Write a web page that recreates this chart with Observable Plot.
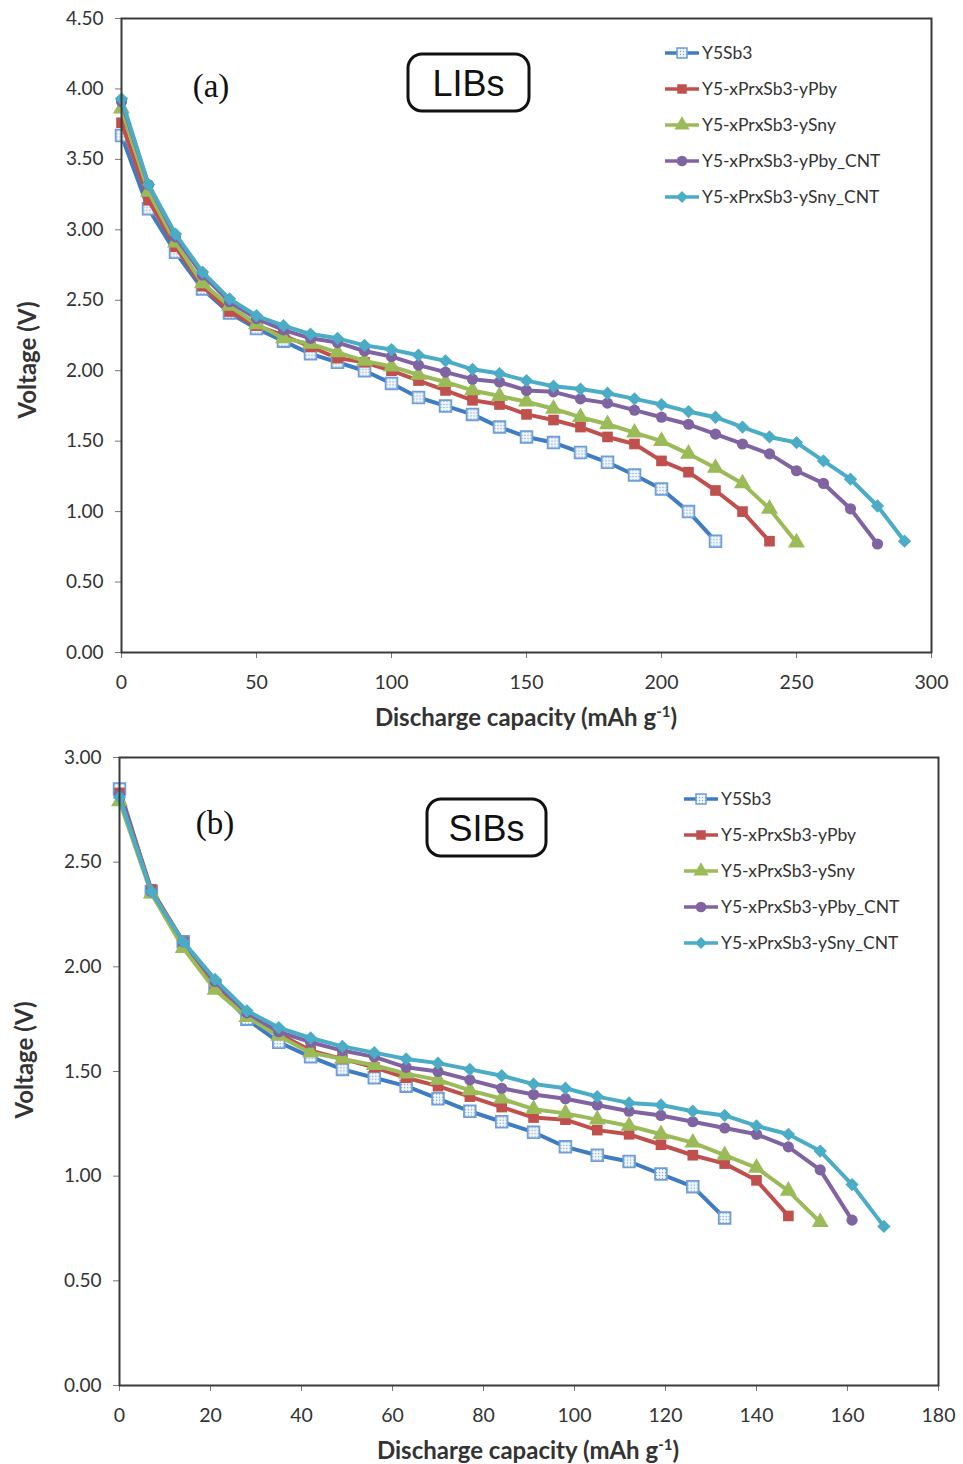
<!DOCTYPE html>
<html><head><meta charset="utf-8">
<script src="https://cdn.jsdelivr.net/npm/d3@7"></script>
<script src="https://cdn.jsdelivr.net/npm/@observablehq/plot@0.6"></script>
<style>
body{margin:0;background:#fff;}
#chart{width:963px;}
#chart svg{display:block;}
</style></head><body><div id="chart"></div>
<script>
// ---------- data ----------
const seriesNames = ["Y5Sb3", "Y5-xPrxSb3-yPby", "Y5-xPrxSb3-ySny", "Y5-xPrxSb3-yPby_CNT", "Y5-xPrxSb3-ySny_CNT"];
const seriesColors = ["#3f7cc2", "#c0504d", "#9bbb59", "#8064a2", "#4bacc6"];
const seriesSymbols = ["square", "square", "triangle", "circle", "diamond2"];

// Panel (a) LIBs
const capacityA = [0,10,20,30,40,50,60,70,80,90,100,110,120,130,140,150,160,170,180,190,200,210,220,230,240,250,260,270,280,290];
const voltA_Y5Sb3   = [3.67,3.15,2.84,2.58,2.41,2.30,2.21,2.12,2.06,2.00,1.91,1.81,1.75,1.69,1.60,1.53,1.49,1.42,1.35,1.26,1.16,1.00,0.79];
const voltA_Pby     = [3.76,3.21,2.88,2.60,2.42,2.32,2.25,2.17,2.09,2.06,2.00,1.93,1.86,1.79,1.76,1.69,1.65,1.60,1.53,1.48,1.36,1.28,1.15,1.00,0.79];
const voltA_Sny     = [3.86,3.27,2.91,2.62,2.46,2.33,2.23,2.19,2.13,2.07,2.03,1.97,1.92,1.86,1.82,1.78,1.73,1.67,1.62,1.56,1.50,1.41,1.31,1.20,1.02,0.78];
const voltA_PbyCNT  = [3.91,3.32,2.95,2.68,2.49,2.37,2.29,2.23,2.20,2.14,2.10,2.04,1.99,1.94,1.92,1.86,1.85,1.80,1.77,1.72,1.67,1.62,1.55,1.48,1.41,1.29,1.20,1.02,0.77];
const voltA_SnyCNT  = [3.93,3.32,2.97,2.70,2.51,2.39,2.32,2.26,2.23,2.18,2.15,2.11,2.07,2.01,1.98,1.93,1.89,1.87,1.84,1.80,1.76,1.71,1.67,1.60,1.53,1.49,1.36,1.23,1.04,0.79];
const xTicksA = [0,50,100,150,200,250,300];
const yTicksA = [0,0.5,1,1.5,2,2.5,3,3.5,4,4.5];

// Panel (b) SIBs
const capacityB = [0,7,14,21,28,35,42,49,56,63,70,77,84,91,98,105,112,119,126,133,140,147,154,161,168];
const voltB_Y5Sb3   = [2.85,2.36,2.12,1.91,1.75,1.64,1.57,1.51,1.47,1.43,1.37,1.31,1.26,1.21,1.14,1.10,1.07,1.01,0.95,0.80];
const voltB_Pby     = [2.83,2.37,2.12,1.90,1.77,1.68,1.60,1.56,1.52,1.47,1.43,1.38,1.33,1.28,1.27,1.22,1.20,1.15,1.10,1.06,0.98,0.81];
const voltB_Sny     = [2.79,2.35,2.09,1.89,1.76,1.67,1.59,1.56,1.53,1.49,1.46,1.41,1.37,1.32,1.30,1.27,1.24,1.20,1.16,1.10,1.04,0.93,0.78];
const voltB_PbyCNT  = [2.82,2.36,2.12,1.93,1.78,1.69,1.64,1.60,1.57,1.52,1.50,1.46,1.42,1.39,1.37,1.34,1.31,1.29,1.26,1.23,1.20,1.14,1.03,0.79];
const voltB_SnyCNT  = [2.81,2.36,2.12,1.94,1.79,1.71,1.66,1.62,1.59,1.56,1.54,1.51,1.48,1.44,1.42,1.38,1.35,1.34,1.31,1.29,1.24,1.20,1.12,0.96,0.76];
const xTicksB = [0,20,40,60,80,100,120,140,160,180];
const yTicksB = [0,0.5,1,1.5,2,2.5,3];

// ---------- drawing ----------
const textColor = "#333";
const markerR = [6.6, 6.0, 6.3, 5.6, 6.0];
function toRows(cap, volts) { return volts.map((v, i) => ({cap: cap[i], v})); }

function seriesMarks(cap, voltLists) {
  const marks = [];
  voltLists.forEach((volts, i) => {
    const rows = toRows(cap, volts);
    marks.push(Plot.line(rows, {x: "cap", y: "v", stroke: seriesColors[i], strokeWidth: 4, strokeLinejoin: "round"}));
    if (i === 0) {
      marks.push(Plot.dot(rows, {x: "cap", y: "v", symbol: seriesSymbols[i], r: markerR[i], fill: "url(#dotpat)", stroke: "#6f9fd8", strokeWidth: 1.8}));
    } else {
      marks.push(Plot.dot(rows, {x: "cap", y: "v", symbol: seriesSymbols[i], r: markerR[i], fill: seriesColors[i], stroke: "none"}));
    }
  });
  return marks;
}

function decorate(svg, cfg) {
  const s = d3.select(svg);
  const defs = s.insert("defs", ":first-child");
  const pat = defs.append("pattern").attr("id", "dotpat").attr("patternUnits", "userSpaceOnUse")
    .attr("width", 3).attr("height", 3);
  pat.append("rect").attr("width", 3).attr("height", 3).attr("fill", "#f4f8fd");
  pat.append("circle").attr("cx", 1.5).attr("cy", 1.5).attr("r", 0.7).attr("fill", "#6f9fd8");

  // x axis title
  const xt = s.append("text").attr("x", cfg.xTitleX).attr("y", cfg.xTitleY).attr("text-anchor", "middle")
    .attr("font-family", "Lato, 'Open Sans', sans-serif").attr("font-weight", "bold").attr("font-size", 24).attr("fill", textColor);
  xt.append("tspan").text("Discharge capacity (mAh g");
  xt.append("tspan").attr("font-size", 15).attr("dy", -9).text("-1");
  xt.append("tspan").attr("dy", 9).text(")");

  // y axis title
  s.append("text").attr("transform", `translate(${cfg.yTitleX},${cfg.yTitleY}) rotate(-90)`).attr("text-anchor", "middle")
    .attr("font-family", "Lato, 'Open Sans', sans-serif").attr("font-weight", "bold").attr("font-size", 24).attr("fill", textColor)
    .text("Voltage (V)");

  // panel letter
  s.append("text").attr("x", cfg.letterX).attr("y", cfg.letterY).attr("text-anchor", "middle")
    .attr("font-family", "'Liberation Serif', 'DejaVu Serif', serif").attr("font-size", 33).attr("fill", "#111").text(cfg.letter);

  // boxed title
  s.append("rect").attr("x", cfg.box[0]).attr("y", cfg.box[1]).attr("width", cfg.box[2]).attr("height", cfg.box[3])
    .attr("rx", 14).attr("fill", "white").attr("stroke", "#111").attr("stroke-width", 3);
  s.append("text").attr("x", cfg.box[0] + cfg.box[2] / 2).attr("y", cfg.box[1] + cfg.box[3] / 2 + 13).attr("text-anchor", "middle")
    .attr("font-family", "'Liberation Sans', Arial, sans-serif").attr("font-size", 36).attr("fill", "#111").text(cfg.boxText);

  // legend
  const lg = s.append("g");
  seriesNames.forEach((name, i) => {
    const y = cfg.legY + i * 36;
    lg.append("line").attr("x1", cfg.legX).attr("x2", cfg.legX + 34).attr("y1", y).attr("y2", y)
      .attr("stroke", seriesColors[i]).attr("stroke-width", 3.4);
    const sym = [d3.symbolSquare, d3.symbolSquare, d3.symbolTriangle, d3.symbolCircle, d3.symbolDiamond2][i];
    const size = [100, 90, 100, 90, 90][i];
    lg.append("path").attr("d", d3.symbol(sym, size)()).attr("transform", `translate(${cfg.legX + 17},${y})`)
      .attr("fill", i === 0 ? "url(#dotpat)" : seriesColors[i])
      .attr("stroke", i === 0 ? "#6f9fd8" : "none").attr("stroke-width", 1.5);
    lg.append("text").attr("x", cfg.legX + 37).attr("y", y + 6).attr("text-anchor", "start")
      .attr("font-family", "Lato, 'Open Sans', sans-serif")
      .attr("font-size", 17.5).attr("fill", textColor).text(name);
  });
}

function makePanel(p) {
  const svg = Plot.plot({
    width: 963, height: p.height,
    marginLeft: p.ml, marginRight: p.mr, marginTop: p.mt, marginBottom: p.mb,
    style: {fontFamily: "Lato, 'Open Sans', sans-serif", fontSize: "19px", color: textColor, background: "white"},
    x: {domain: p.xDomain},
    y: {domain: p.yDomain},
    marks: [
      Plot.axisX({ticks: p.xTicks, tickSize: 6, tickPadding: 17, label: null, fontSize: 19.5, stroke: "#777"}),
      Plot.axisY({ticks: p.yTicks, tickFormat: d => d.toFixed(2), tickSize: 6, tickPadding: 12, label: null, fontSize: 19, stroke: "#777"}),
      ...seriesMarks(p.cap, p.volts),
      Plot.frame({stroke: "#3a3a3a", strokeWidth: 2})
    ]
  });
  decorate(svg, p.deco);
  document.getElementById("chart").appendChild(svg);
}

makePanel({
  height: 740, ml: 121, mr: 32, mt: 18, mb: 88,
  xDomain: [0, 300], yDomain: [0, 4.5], xTicks: xTicksA, yTicks: yTicksA,
  cap: capacityA, volts: [voltA_Y5Sb3, voltA_Pby, voltA_Sny, voltA_PbyCNT, voltA_SnyCNT],
  deco: {xTitleX: 526, xTitleY: 726, yTitleX: 36, yTitleY: 360, letter: "(a)", letterX: 211, letterY: 97,
         box: [408, 54, 121, 57], boxText: "LIBs", legX: 665, legY: 53}
});
makePanel({
  height: 724, ml: 119, mr: 25, mt: 17, mb: 79,
  xDomain: [0, 180], yDomain: [0, 3], xTicks: xTicksB, yTicks: yTicksB,
  cap: capacityB, volts: [voltB_Y5Sb3, voltB_Pby, voltB_Sny, voltB_PbyCNT, voltB_SnyCNT],
  deco: {xTitleX: 528, xTitleY: 719, yTitleX: 33, yTitleY: 320, letter: "(b)", letterX: 215, letterY: 94,
         box: [427, 59, 119, 57], boxText: "SIBs", legX: 684, legY: 59}
});
</script>
</body></html>
